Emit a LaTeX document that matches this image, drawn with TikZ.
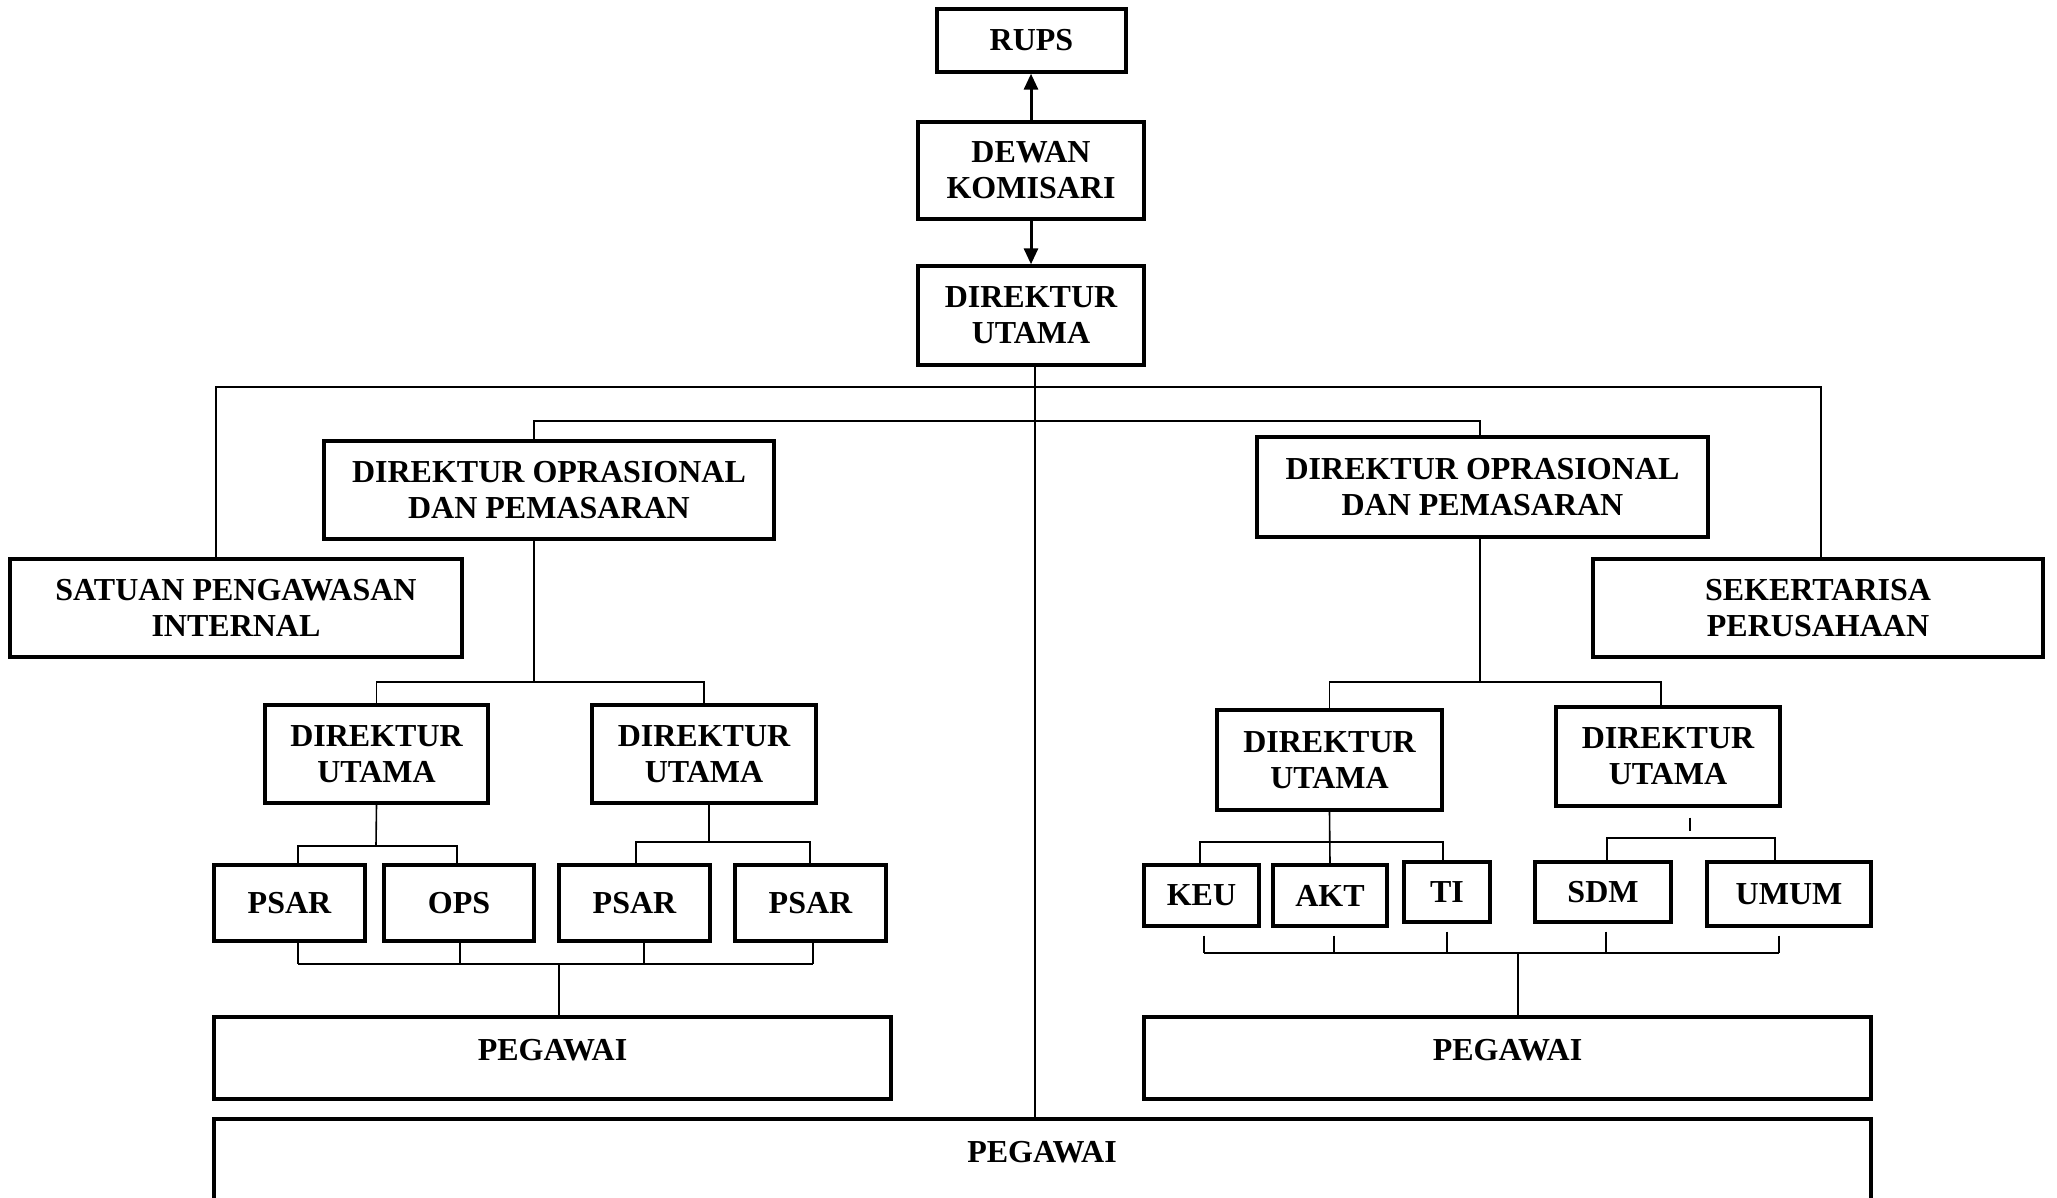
\documentclass[tikz,border=0pt]{standalone}
\usepackage{fontspec}
\setmainfont{Liberation Serif}
\usetikzlibrary{arrows.meta}
\newcommand\bxnode[6]{\node[box, minimum width={(#4-#2)*0.5pt}, minimum height={(#5-#3)*0.5pt}] (#1) at ({(#2+#4)/2},{(#3+#5)/2}) {#6};}
\begin{document}
\begin{tikzpicture}[x=0.5pt,y=-0.5pt,
  box/.style={draw, line width=1.7pt, rectangle, inner sep=0pt, align=center,
    font=\fontsize{16}{18}\selectfont\bfseries},
  lbl/.style={inner sep=0pt, font=\fontsize{16}{18}\selectfont\bfseries},
  ln/.style={line width=0.8pt},
  arr/.style={line width=1.5pt, -{Triangle[length=8pt,width=7pt]}}]
\useasboundingbox (0,0) rectangle (2057,1198);
\clip (0,0) rectangle (2057,1198);
% top chain
\bxnode{rups}{937}{9}{1126}{72}{RUPS}
\bxnode{dk}{918}{122}{1144}{219}{DEWAN\\KOMISARI}
\bxnode{du}{918}{266}{1144}{365}{DIREKTUR\\UTAMA}
% second level
\bxnode{dopL}{324}{441}{774}{539}{DIREKTUR OPRASIONAL\\DAN PEMASARAN}
\bxnode{dopR}{1257}{437}{1708}{537}{DIREKTUR OPRASIONAL\\DAN PEMASARAN}
\bxnode{spi}{10}{559}{462}{657}{SATUAN PENGAWASAN\\INTERNAL}
\bxnode{sek}{1593}{559}{2043}{657}{SEKERTARISA\\PERUSAHAAN}
% third level
\bxnode{duL1}{265}{705}{488}{803}{DIREKTUR\\UTAMA}
\bxnode{duL2}{592}{705}{816}{803}{DIREKTUR\\UTAMA}
\bxnode{duR1}{1217}{710}{1442}{810}{DIREKTUR\\UTAMA}
\bxnode{duR2}{1556}{707}{1780}{806}{DIREKTUR\\UTAMA}
% units
\bxnode{psar1}{214}{865}{365}{941}{PSAR}
\bxnode{ops}{384}{865}{534}{941}{OPS}
\bxnode{psar2}{559}{865}{710}{941}{PSAR}
\bxnode{psar3}{735}{865}{886}{941}{PSAR}
\bxnode{keu}{1144}{865}{1259}{926}{KEU}
\bxnode{akt}{1273}{865}{1387}{926}{AKT}
\bxnode{ti}{1404}{862}{1490}{922}{TI}
\bxnode{sdm}{1535}{862}{1671}{922}{SDM}
\bxnode{umum}{1707}{862}{1871}{926}{UMUM}
% pegawai
\bxnode{pegL}{214}{1017}{891}{1099}{\raisebox{8pt}{PEGAWAI}}
\bxnode{pegR}{1144}{1017}{1871}{1099}{\raisebox{8pt}{PEGAWAI}}
\bxnode{pegB}{214}{1119}{1871}{1260}{}
\node[lbl] (pegBt) at (1042,1152) {PEGAWAI};
% arrows
\draw[arr] (dk.north) -- (dk.north |- rups.south);
\draw[arr] (dk.south) -- (dk.south |- du.north);
% central spine
\coordinate (sp) at (1035,365);
\draw[ln] (sp) -- (sp |- pegB.north);
% outer branch
\coordinate (oL) at (216,387);
\coordinate (oR) at (1821,387);
\draw[ln] (oL |- spi.north) -- (oL) -- (oR) -- (oR |- sek.north);
% inner branch
\coordinate (iL) at (534,421);
\coordinate (iR) at (1480,421);
\draw[ln] (iL |- dopL.north) -- (iL) -- (iR) -- (iR |- dopR.north);
% left DOP to DUs
\coordinate (bL) at (534,682);
\draw[ln] (iL |- dopL.south) -- (bL);
\draw[ln] (duL1.north) -- (duL1.north |- bL) -- (duL2.north |- bL) -- (duL2.north);
% right DOP to DUs
\coordinate (bR) at (1480,682);
\coordinate (bR2) at (1661,682);
\draw[ln] (iR |- dopR.south) -- (bR);
\draw[ln] (duR1.north) -- (duR1.north |- bR) -- (bR2) -- (bR2 |- duR2.north);
% duL1 to PSAR/OPS
\coordinate (c1) at (376,846);
\coordinate (c1a) at (298,846);
\coordinate (c1b) at (457,846);
\draw[ln] (duL1.south) -- (c1);
\draw[ln] (c1a |- psar1.north) -- (c1a) -- (c1b) -- (c1b |- ops.north);
% duL2 to PSARs
\coordinate (c2) at (709,842);
\coordinate (c2a) at (636,842);
\coordinate (c2b) at (810,842);
\draw[ln] (c2 |- duL2.south) -- (c2);
\draw[ln] (c2a |- psar2.north) -- (c2a) -- (c2b) -- (c2b |- psar3.north);
% left bottom collector
\coordinate (g1) at (298,964);
\coordinate (g2) at (460,964);
\coordinate (g3) at (644,964);
\coordinate (g4) at (813,964);
\coordinate (gc) at (559,964);
\draw[ln] (g1 |- psar1.south) -- (g1);
\draw[ln] (g2 |- ops.south) -- (g2);
\draw[ln] (g3 |- psar2.south) -- (g3);
\draw[ln] (g4 |- psar3.south) -- (g4);
\draw[ln] (g1) -- (g4);
\draw[ln] (gc) -- (gc |- pegL.north);
% duR1 to KEU/AKT/TI
\coordinate (d1a) at (1200,842);
\coordinate (d1b) at (1443,842);
\draw[ln] (duR1.south) -- (akt.north);
\draw[ln] (d1a |- keu.north) -- (d1a) -- (d1b) -- (d1b |- ti.north);
% duR2 to SDM/UMUM
\coordinate (d2) at (1690,831);
\coordinate (d2a) at (1607,838);
\coordinate (d2b) at (1775,838);
\draw[ln] ([yshift=-5pt]d2 |- duR2.south) -- (d2);
\draw[ln] (d2a |- sdm.north) -- (d2a) -- (d2b) -- (d2b |- umum.north);
% right bottom collector
\coordinate (h1) at (1204,953);
\coordinate (h2) at (1334,953);
\coordinate (h3) at (1447,953);
\coordinate (h4) at (1606,953);
\coordinate (h5) at (1779,953);
\coordinate (hc) at (1518,953);
\draw[ln] ([yshift=-4pt]h1 |- keu.south) -- (h1);
\draw[ln] ([yshift=-4pt]h2 |- akt.south) -- (h2);
\draw[ln] ([yshift=-4pt]h3 |- ti.south) -- (h3);
\draw[ln] ([yshift=-4pt]h4 |- sdm.south) -- (h4);
\draw[ln] ([yshift=-4pt]h5 |- umum.south) -- (h5);
\draw[ln] (h1) -- (h5);
\draw[ln] (hc) -- (hc |- pegR.north);
\end{tikzpicture}
\end{document}
